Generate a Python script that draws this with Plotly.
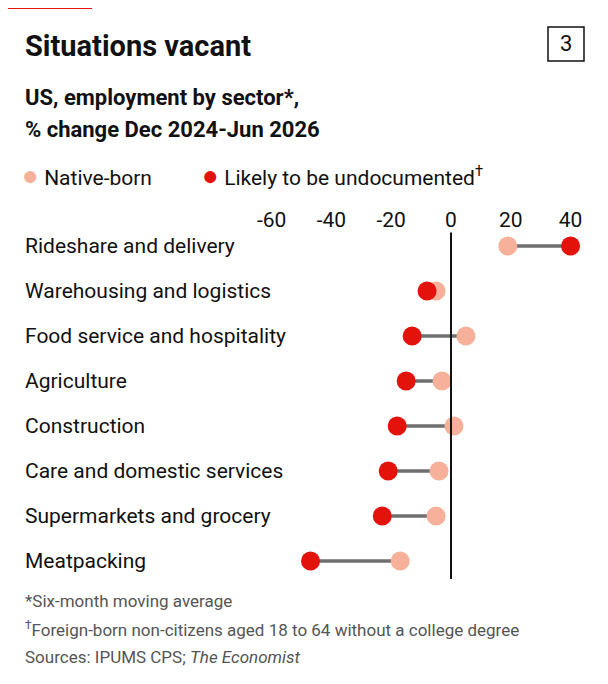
import plotly.graph_objects as go

sectors = ["Rideshare and delivery", "Warehousing and logistics", "Food service and hospitality",
           "Agriculture", "Construction", "Care and domestic services",
           "Supermarkets and grocery", "Meatpacking"]
native = [19, -5, 5, -3, 1, -4, -5, -17]
undocumented = [40, -8, -13, -15, -18, -21, -23, -47]
tick_vals = [-60, -40, -20, 0, 20, 40]

RED = "#E3120B"
PINK = "#F7B09A"
FONT = "Roboto"
OFF = 8  # page body margin

rows = list(range(len(sectors)))
fig = go.Figure()

cx, cy = [], []
for i in rows:
    cx += [native[i], undocumented[i], None]
    cy += [i, i, None]
fig.add_trace(go.Scatter(x=cx, y=cy, mode="lines", line=dict(color="#6f6f6f", width=3.5),
                         hoverinfo="skip", showlegend=False))
fig.add_trace(go.Scatter(x=native, y=rows, mode="markers", marker=dict(color=PINK, size=19),
                         showlegend=False))
fig.add_trace(go.Scatter(x=undocumented, y=rows, mode="markers", marker=dict(color=RED, size=19),
                         showlegend=False))
fig.add_trace(go.Scatter(x=tick_vals, y=[-0.55] * len(tick_vals), mode="text",
                         text=[str(v) for v in tick_vals], textfont=dict(size=21, color="#111", family=FONT),
                         hoverinfo="skip", showlegend=False))

fig.add_shape(type="line", x0=0, x1=0, y0=-0.3, y1=7.4, line=dict(color="#111", width=2))
fig.add_shape(type="rect", xref="paper", yref="paper", x0=0, x1=(92 - OFF)/608, y0=1 - 1/684, y1=1,
              fillcolor=RED, line_width=0)
fig.add_shape(type="rect", xref="paper", yref="paper", x0=(548 - OFF)/608, x1=(584 - OFF)/608,
              y0=1 - (61 - OFF)/684, y1=1 - (27 - OFF)/684, line=dict(color="#111", width=1.5))

for i, s in enumerate(sectors):
    fig.add_annotation(x=(23 - OFF)/608, xref="paper", y=i, yref="y", text=s, showarrow=False,
                       xanchor="left", font=dict(size=21, color="#111", family=FONT))

def ann(text, y, size, color="#111", x=23, xanchor="left"):
    fig.add_annotation(x=(x - OFF)/608, y=1 - (y - OFF)/684, xref="paper", yref="paper", text=text,
                       showarrow=False, xanchor=xanchor, yanchor="middle", align="left",
                       font=dict(size=size, color=color, family=FONT))

ann("<b>Situations vacant</b>", 46, 29)
ann("3", 44, 22, x=566, xanchor="center")
ann("<b>US, employment by sector*,</b>", 98, 22)
ann("<b>% change Dec 2024-Jun 2026</b>", 129, 22)
ann("<span style='font-size:28px;color:%s'>●</span> Native-born" % PINK, 175, 21, x=20)
ann("<span style='font-size:28px;color:%s'>●</span> Likely to be undocumented<sup>†</sup>" % RED, 175, 21, x=200)
ann("*Six-month moving average", 601, 17, "#555")
ann("<sup>†</sup>Foreign-born non-citizens aged 18 to 64 without a college degree", 629, 17, "#555")
ann("Sources: IPUMS CPS; <i>The Economist</i>", 657, 17, "#555")

fig.update_xaxes(range=[-148.2, 55.2], visible=False, domain=[0, 1])
fig.update_yaxes(range=[9.91, -5.29], visible=False)
fig.update_layout(width=608, height=684, margin=dict(l=0, r=0, t=0, b=0),
                  plot_bgcolor="white", paper_bgcolor="white", font=dict(family=FONT))
fig.write_html("out.html")
